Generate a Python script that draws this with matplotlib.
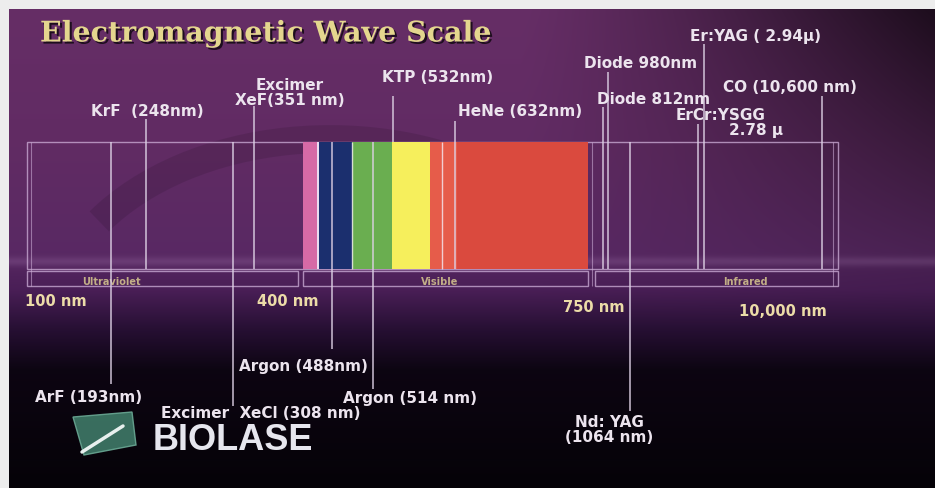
import numpy as np
import matplotlib.pyplot as plt
import matplotlib.patheffects as pe
from matplotlib.patches import Rectangle, Polygon, Arc

W, H = 935, 489

title = 'Electromagnetic Wave Scale'

# colour bands of the visible spectrum (slide scale)
band_left = [303, 317, 319, 352, 392, 430, 457]
band_right = [317, 319, 352, 392, 430, 457, 588]
band_colors = ['#d66aa6', '#eadcf0', '#1b2f6e', '#6aae50', '#f6ef5c', '#e65c4a', '#da4a3e']

# region boxes under the scale
regions = ['Ultraviolet', 'Visible', 'Infrared']
region_left = [27, 303, 595]
region_right = [298, 588, 838]
region_label_x = [111, 440, 745]

# wavelength marks
scale_labels = ['100 nm', '400 nm', '750 nm', '10,000 nm']
scale_x = [56, 288, 594, 783]
scale_y = [302, 302, 307, 312]

# lasers labelled above the scale
top_names = ['KrF  (248nm)', 'Excimer\nXeF(351 nm)', 'KTP (532nm)', 'HeNe (632nm)',
             'Diode 980nm', 'Diode 812nm', 'Er:YAG ( 2.94µ)', 'CO (10,600 nm)',
             'ErCr:YSGG', '2.78 µ']
top_line_x = [146, 254, 393, 455, 608, 603, 704, 822, 698]
top_line_from = [120, 107, 97, 122, 73, 108, 45, 97, 125]
top_line_to = [270, 270, 143, 270, 270, 270, 270, 270, 270]
top_label_x = [147, 290, 438, 520, 641, 654, 756, 790, 721, 756]
top_label_y = [112, 93, 78, 112, 64, 100, 36, 88, 116, 131]

# lasers labelled below the scale
bot_names = ['ArF (193nm)', 'Excimer  XeCl (308 nm)', 'Argon (488nm)', 'Argon (514 nm)',
             'Nd: YAG\n(1064 nm)']
bot_line_x = [111, 233, 332, 373, 630]
bot_line_to = [385, 407, 350, 390, 412]
bot_label_x = [89, 261, 303, 410, 609]
bot_label_y = [397, 413, 366, 398, 430]

# background: purple slide fading to black
yy, xx = np.mgrid[0:H, 0:W]
ys = [10, 150, 250, 290, 330, 370, 489]
prof = np.stack([np.interp(yy, ys, [0.40, 0.38, 0.35, 0.29, 0.15, 0.05, 0.02]),
                 np.interp(yy, ys, [0.18, 0.17, 0.16, 0.12, 0.06, 0.02, 0.01]),
                 np.interp(yy, ys, [0.40, 0.39, 0.39, 0.34, 0.20, 0.07, 0.03])], axis=-1)
dark = 1 - 0.72 * np.clip((xx - 520) / 415, 0, 1) ** 1.2 * np.clip(1 - (yy - 10) / 320, 0, 1)
bg = prof * dark[..., None]
bg += 0.08 * np.exp(-((yy - 262) / 5.0) ** 2)[..., None]
bg = np.clip(bg, 0, 1)
bg[(yy < 10) | (xx < 9)] = 0.93

fig = plt.figure(figsize=(W / 100, H / 100), dpi=100)
ax = fig.add_axes([0, 0, 1, 1])
ax.imshow(bg, extent=(0, W, H, 0), aspect='auto', zorder=0)
ax.set_xlim(0, W)
ax.set_ylim(H, 0)
ax.axis('off')

# faint swoosh behind the scale
ax.add_patch(Arc((330, 330), 560, 380, theta1=205, theta2=320, lw=20,
                 color='black', alpha=0.1, zorder=1))

line_c = '#ddd0e4'
box_c = '#c8a8d2'

# outer scale box and region boxes
ax.add_patch(Rectangle((27, 143), 838 - 27, 270 - 143, fill=False, ec=box_c, lw=1, alpha=0.8, zorder=2))
ax.vlines([31, 592, 833], 143, 287, color=box_c, lw=0.8, alpha=0.6, zorder=2)
for name, l, r, lx in zip(regions, region_left, region_right, region_label_x):
    ax.add_patch(Rectangle((l, 272), r - l, 15, fill=False, ec=box_c, lw=1, alpha=0.8, zorder=2))
    ax.text(lx, 282, name, color='#d8c890', fontsize=7, fontweight='bold',
            ha='center', va='center', alpha=0.85, zorder=3)

# spectrum
for l, r, c in zip(band_left, band_right, band_colors):
    ax.add_patch(Rectangle((l, 143), r - l, 127, fc=c, ec='none', zorder=3))
ax.vlines([352, 442], 143, 270, color='#f4ecf4', lw=1, alpha=0.8, zorder=4)

# laser lines
for x, a, b in zip(top_line_x, top_line_from, top_line_to):
    ax.vlines(x, a, b, color=line_c, lw=1.2, alpha=0.85, zorder=4)
for x, b in zip(bot_line_x, bot_line_to):
    ax.vlines(x, 143, b, color=line_c, lw=1.2, alpha=0.85, zorder=4)

lab = dict(color='#ece4ee', fontsize=11, fontweight='bold', family='DejaVu Sans', zorder=5,
           linespacing=1.05)
for name, x, y in zip(top_names, top_label_x, top_label_y):
    ax.text(x, y, name, ha='center', va='center', **lab)
for name, x, y in zip(bot_names, bot_label_x, bot_label_y):
    ax.text(x, y, name, ha='center', va='center', **lab)

for name, x, y in zip(scale_labels, scale_x, scale_y):
    ax.text(x, y, name, ha='center', va='center', color='#ecdca8', fontsize=10.5,
            fontweight='bold', zorder=5)

ax.text(40, 35, title, ha='left', va='center', color='#e4d68e', fontsize=20.5,
        fontweight='bold', family='DejaVu Serif', zorder=5,
        path_effects=[pe.SimplePatchShadow(offset=(1.5, -1.5), shadow_rgbFace='black', alpha=0.7),
                      pe.Normal()])

# BIOLASE logo
ax.add_patch(Polygon([(73, 418), (132, 413), (136, 446), (84, 456)], closed=True,
                     fc='#3f7a68', ec='#6aa894', lw=1, alpha=0.9, zorder=5))
ax.plot([82, 123], [453, 427], color='#e8f0ee', lw=2.5, zorder=6, solid_capstyle='round')
ax.text(153, 441, 'BIOLASE', ha='left', va='center', color='#e6e6ee', fontsize=26,
        fontweight='bold', family='Liberation Sans', zorder=6)

fig.savefig('out.png', dpi=100)
